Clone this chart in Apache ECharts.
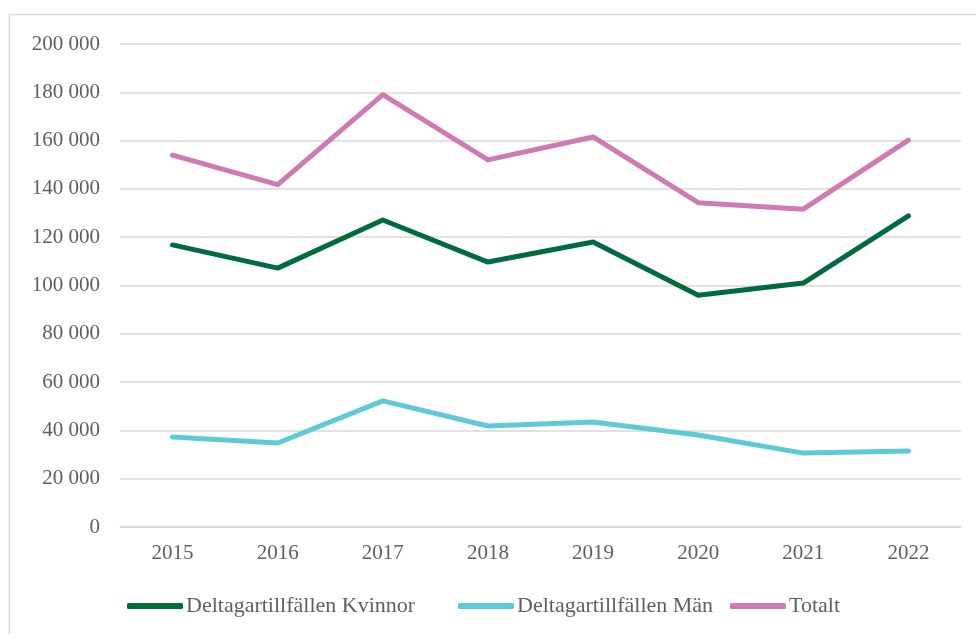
<!DOCTYPE html>
<html>
<head>
<meta charset="utf-8">
<script src="https://cdn.jsdelivr.net/npm/echarts@6/dist/echarts.min.js"></script>
<style>
    html, body { margin: 0; padding: 0; background: #fff; }
    #main { width: 976px; height: 634px; }
</style>
</head>
<body>
<div id="main"></div>
<script>
    var years = ['2015', '2016', '2017', '2018', '2019', '2020', '2021', '2022'];
    var kvinnor = [116800, 107200, 127100, 109700, 118000, 96000, 101000, 128800];
    var man = [37300, 34800, 52200, 41800, 43500, 38100, 30600, 31500];
    var totalt = [154000, 141800, 179000, 152000, 161500, 134300, 131600, 160200];
    var names = ['Deltagartillfällen Kvinnor', 'Deltagartillfällen Män', 'Totalt'];

    var font = '"Liberation Serif", "DejaVu Serif", serif';
    var chart = echarts.init(document.getElementById('main'));

    function fmt(v) {
        return String(v).replace(/\B(?=(\d{3})+(?!\d))/g, ' ');
    }

    // one legend per item so each sits where it does in the original
    function legendAt(name, left) {
        return {
            top: 595,
            left: left,
            padding: 0,
            icon: 'roundRect',
            itemWidth: 56,
            itemHeight: 6,
            textStyle: { fontFamily: font, fontSize: 22, color: '#5f5f5f', padding: [0, 0, 0, -2] },
            data: [name]
        };
    }

    var option = {
        animation: false,
        textStyle: { fontFamily: font },
        graphic: [{
            type: 'rect',
            shape: { x: 9.5, y: 14.5, width: 1000, height: 700 },
            style: { fill: 'none', stroke: '#d9d9d9', lineWidth: 1.5 },
            silent: true
        }],
        grid: { left: 120, right: 15, top: 44, bottom: 107 },
        legend: [
            legendAt(names[0], 127),
            legendAt(names[1], 458),
            legendAt(names[2], 730)
        ],
        xAxis: {
            type: 'category',
            data: years,
            boundaryGap: true,
            axisLine: { show: true, lineStyle: { color: '#d9d9d9', width: 1.5 } },
            axisTick: { show: false },
            axisLabel: { margin: 16, fontFamily: font, fontSize: 21, color: '#5f5f5f' }
        },
        yAxis: {
            type: 'value',
            min: 0,
            max: 200000,
            interval: 20000,
            axisLine: { show: false },
            axisTick: { show: false },
            splitLine: { lineStyle: { color: '#d9d9d9', width: 1.5 } },
            axisLabel: { margin: 20, fontFamily: font, fontSize: 21, color: '#5f5f5f', formatter: fmt }
        },
        series: [
            {
                name: names[0],
                type: 'line',
                data: kvinnor,
                symbol: 'none',
                itemStyle: { color: '#006b3c' },
                lineStyle: { width: 5, color: '#006b3c', cap: 'round', join: 'round' }
            },
            {
                name: names[1],
                type: 'line',
                data: man,
                symbol: 'none',
                itemStyle: { color: '#5ec9d9' },
                lineStyle: { width: 5, color: '#5ec9d9', cap: 'round', join: 'round' }
            },
            {
                name: names[2],
                type: 'line',
                data: totalt,
                symbol: 'none',
                itemStyle: { color: '#cd7bb2' },
                lineStyle: { width: 5, color: '#cd7bb2', cap: 'round', join: 'round' }
            }
        ]
    };

    chart.setOption(option);
</script>
</body>
</html>
